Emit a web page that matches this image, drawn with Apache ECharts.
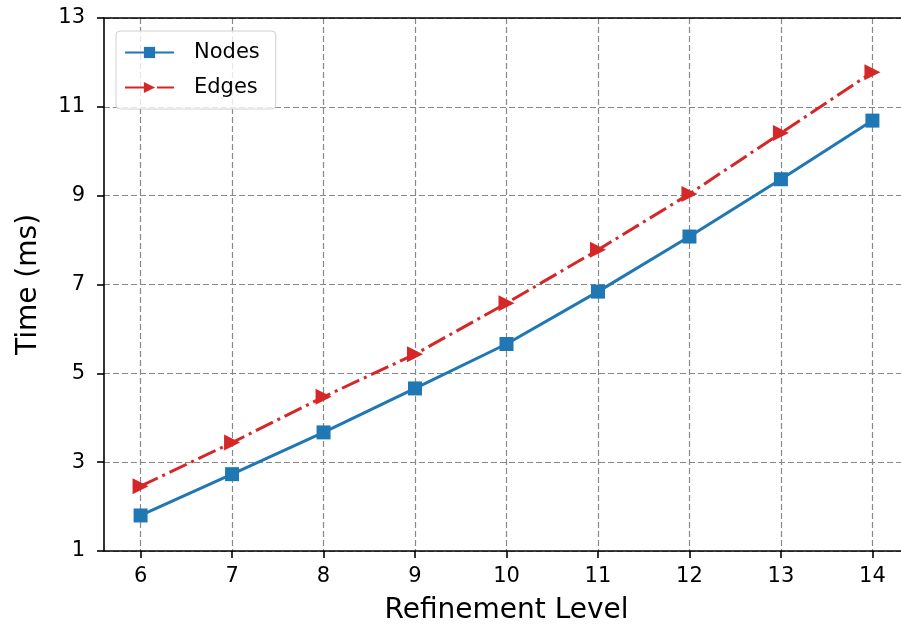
<!DOCTYPE html>
<html>
<head>
<meta charset="utf-8">
<script src="https://cdn.jsdelivr.net/npm/echarts@6/dist/echarts.min.js"></script>
<style>html,body{margin:0;padding:0;background:#fff;}#c{width:901px;height:631px;}</style>
</head>
<body>
<div id="c"></div>
<script>
const levels = [6, 7, 8, 9, 10, 11, 12, 13, 14];
const nodesTime = [1.80, 2.73, 3.67, 4.66, 5.66, 6.84, 8.08, 9.37, 10.69];
const edgesTime = [2.46, 3.44, 4.47, 5.43, 6.58, 7.78, 9.04, 10.41, 11.78];
const xTicks = [6, 7, 8, 9, 10, 11, 12, 13, 14];
const yTicks = [1, 3, 5, 7, 9, 11, 13];

const FONT = 'DejaVu Sans';
const chart = echarts.init(document.getElementById('c'), null, {renderer: 'canvas'});

const gridLine = {show: true, lineStyle: {color: '#888', type: [6, 3], width: 1.2}};

chart.setOption({
  animation: false,
  backgroundColor: '#fff',
  textStyle: {fontFamily: FONT, color: '#000'},
  grid: {left: 104, top: 18, width: 805, height: 533, containLabel: false, outerBoundsMode: 'none'},
  legend: {
    orient: 'vertical',
    left: 116, top: 31,
    padding: [11, 16, 11, 8],
    itemWidth: 49, itemHeight: 14,
    itemGap: 14,
    backgroundColor: 'rgba(255,255,255,0.8)',
    borderColor: '#d0d0d0', borderWidth: 1, borderRadius: 4,
    textStyle: {fontFamily: FONT, fontSize: 21, color: '#000', padding: [0, 0, 0, 15]},
    data: ['Nodes', 'Edges']
  },
  xAxis: [{
    type: 'value', min: 5.6, max: 14.4,
    name: 'Refinement Level', nameLocation: 'middle', nameGap: 46,
    nameTextStyle: {fontFamily: FONT, fontSize: 28, color: '#000'},
    axisLine: {show: true, onZero: false, lineStyle: {color: '#000', width: 1.6}},
    axisTick: {show: true, inside: false, length: 7, lineStyle: {color: '#000', width: 1.6}, customValues: xTicks},
    axisLabel: {fontFamily: FONT, fontSize: 21, color: '#000', margin: 15, customValues: xTicks},
    splitLine: gridLine
  }, {
    type: 'value', min: 5.6, max: 14.4, position: 'top',
    axisLine: {show: true, onZero: false, lineStyle: {color: '#000', width: 1.6}},
    axisTick: {show: false}, axisLabel: {show: false}, splitLine: {show: false}
  }],
  yAxis: {
    type: 'value', min: 1, max: 13,
    name: 'Time (ms)', nameLocation: 'middle', nameGap: 61,
    nameTextStyle: {fontFamily: FONT, fontSize: 28, color: '#000'},
    axisLine: {show: true, onZero: false, lineStyle: {color: '#000', width: 1.6}},
    axisTick: {show: true, inside: false, length: 7, lineStyle: {color: '#000', width: 1.6}, customValues: yTicks},
    axisLabel: {fontFamily: FONT, fontSize: 21, color: '#000', margin: 19, customValues: yTicks},
    splitLine: gridLine
  },
  series: [{
    name: 'Nodes', type: 'line',
    data: levels.map((x, i) => [x, nodesTime[i]]),
    symbol: 'rect', symbolSize: 14,
    itemStyle: {color: '#1f77b4'},
    lineStyle: {color: '#1f77b4', width: 3},
    z: 3
  }, {
    name: 'Edges', type: 'line',
    data: levels.map((x, i) => [x, edgesTime[i]]),
    symbol: 'triangle', symbolSize: 16, symbolRotate: -90,
    itemStyle: {color: '#d62728'},
    lineStyle: {color: '#d62728', width: 3, type: [19, 5, 3, 5]},
    z: 4
  }]
});
</script>
</body>
</html>
